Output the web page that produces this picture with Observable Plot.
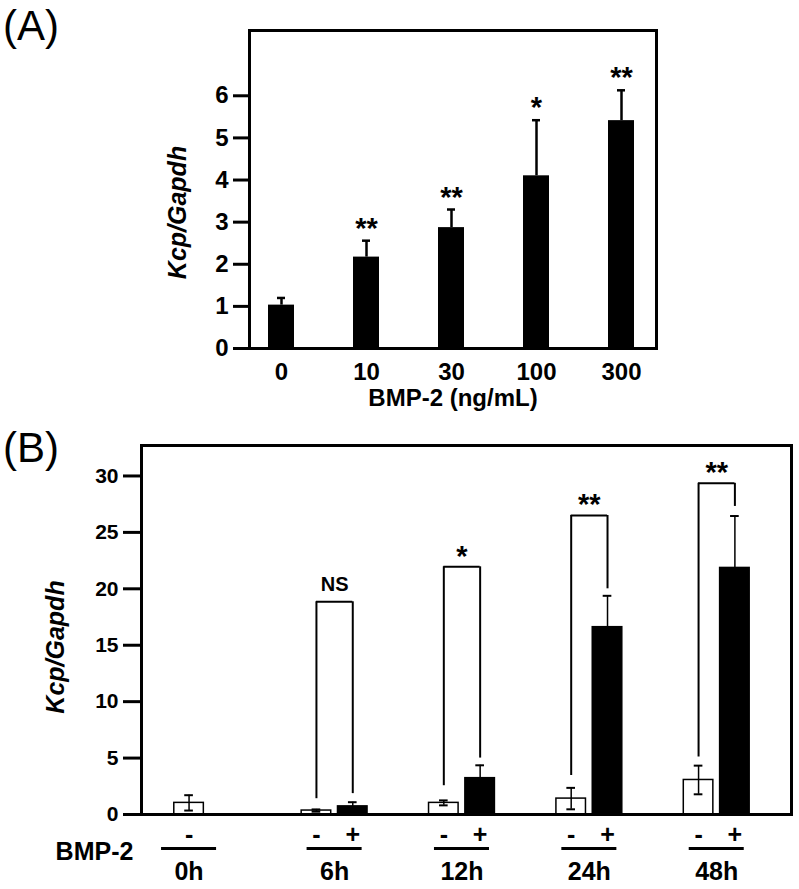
<!DOCTYPE html>
<html><head><meta charset="utf-8">
<script src="https://cdn.jsdelivr.net/npm/d3@7"></script>
<script src="https://cdn.jsdelivr.net/npm/@observablehq/plot@0.6"></script>
<style>
body{margin:0;background:#fff;}
#wrap{position:relative;width:799px;height:889px;overflow:hidden;}
.panel{position:absolute;left:0;}
.plabel{position:absolute;font-size:42px;font-family:"Liberation Sans",Arial,sans-serif;line-height:1;color:#000;}
</style></head><body>
<div id="wrap">
  <div class="plabel" style="left:3px;top:5px">(A)</div>
  <div class="plabel" style="left:3px;top:427px">(B)</div>
  <div id="pa" class="panel" style="top:0px"></div>
  <div id="pb" class="panel" style="top:440px"></div>
</div>
<script>
// ---------- Panel A data ----------
const doseLabels = ["0", "10", "30", "100", "300"];
const doseMean = [1.03, 2.17, 2.87, 4.10, 5.41];
const doseSD = [0.17, 0.39, 0.43, 1.32, 0.72];
const doseSig = ["", "**", "**", "*", "**"];
const yTicksA = [0, 1, 2, 3, 4, 5, 6];
const xTitleA = "BMP-2 (ng/mL)";
const yTitle = "Kcp/Gapdh";

// ---------- Panel B data ----------
const timeLabels = ["0h", "6h", "12h", "24h", "48h"];
const ctrlMean = [1.03, 0.35, 1.03, 1.41, 3.06];
const ctrlSD = [0.68, 0.10, 0.22, 0.95, 1.27];
const bmpMean = [null, 0.72, 3.22, 16.6, 21.85];
const bmpSD = [null, 0.37, 1.14, 2.78, 4.6];
const sigLabels = [null, "NS", "*", "**", "**"];
const bracketTop = [null, 18.85, 21.95, 26.5, 29.35];
const bracketLeftEnd = [null, 1.4, 2.55, 3.45, 5.1];
const bracketRightEnd = [null, 1.85, 5.0, 20.0, 27.3];
const yTicksB = [0, 5, 10, 15, 20, 25, 30];
const treatLabel = "BMP-2";

const FONT = '"Liberation Sans", Arial, Helvetica, sans-serif';

// ---------- Panel A ----------
const A = doseLabels.map((d, i) => ({dose: d, mean: doseMean[i], sd: doseSD[i], sig: doseSig[i]}));
const plotA = Plot.plot({
  width: 799, height: 440,
  marginLeft: 249, marginRight: 143, marginTop: 30, marginBottom: 92,
  style: {fontFamily: FONT, color: "#000", background: "transparent", overflow: "visible"},
  x: {domain: doseLabels, paddingInner: 0.689, paddingOuter: 0.213, align: 0.463},
  y: {domain: [0, 7.55]},
  marks: [
    Plot.barY(A, {x: "dose", y: "mean", fill: "#000"}),
    Plot.ruleX(A, {x: "dose", y1: "mean", y2: d => d.mean + d.sd, strokeWidth: 2.5}),
    Plot.tickY(A, {x: "dose", y: d => d.mean + d.sd, strokeWidth: 2.5, insetLeft: 9, insetRight: 9}),
    Plot.text(A, {x: "dose", y: d => d.mean + d.sd, text: "sig", lineAnchor: "bottom", dy: -3, fontSize: 29, fontWeight: "bold"}),
    Plot.axisY({ticks: yTicksA, tickSize: 16, tickPadding: 5, strokeWidth: 3, fontSize: 24, fontWeight: "bold", label: null}),
    Plot.axisX({tickSize: 0, tickPadding: 14, fontSize: 24, fontWeight: "bold", label: null}),
    Plot.text([xTitleA], {text: d => d, frameAnchor: "bottom", dy: 50, lineAnchor: "middle", textAnchor: "middle", fontSize: 24, fontWeight: "bold"}),
    Plot.text([yTitle], {text: d => d, frameAnchor: "left", rotate: -90, dx: -72, dy: 23, lineAnchor: "middle", textAnchor: "middle", fontSize: 25, fontWeight: "bold", fontStyle: "italic"}),
    Plot.frame({strokeWidth: 3})
  ]
});
document.getElementById("pa").appendChild(plotA);

// ---------- Panel B ----------
const PAIR_OFF = 0.1426, BAR_HALF = 0.116, CAP_HALF = 0.034, LINE_HALF = 0.216;
const bars = [];
timeLabels.forEach((t, i) => {
  bars.push({time: t, g: i, trt: "-", pos: i - PAIR_OFF, mean: ctrlMean[i], sd: ctrlSD[i]});
  if (bmpMean[i] != null) bars.push({time: t, g: i, trt: "+", pos: i + PAIR_OFF, mean: bmpMean[i], sd: bmpSD[i]});
});
const ctrl = bars.filter(d => d.trt === "-");
const bmp = bars.filter(d => d.trt === "+");
const groups = timeLabels.map((t, i) => {
  const b = bars.filter(d => d.g === i);
  return {time: t, pos: d3.mean(b, d => d.pos)};
});
const brackets = timeLabels.map((t, i) => ({time: t, sig: sigLabels[i], top: bracketTop[i], lEnd: bracketLeftEnd[i], rEnd: bracketRightEnd[i], l: i - PAIR_OFF, r: i + PAIR_OFF}))
  .filter(d => d.sig != null);

const zero = () => 0;
const plotB = Plot.plot({
  width: 799, height: 449,
  marginLeft: 141, marginRight: 8, marginTop: 5, marginBottom: 75,
  style: {fontFamily: FONT, color: "#000", background: "transparent", overflow: "visible"},
  x: {type: "linear", domain: [-0.516, 4.587], axis: null},
  y: {domain: [0, 32.7]},
  marks: [
    Plot.rectY(ctrl, {x1: d => d.pos - BAR_HALF, x2: d => d.pos + BAR_HALF, y1: zero, y2: "mean", fill: "#fff", stroke: "#000", strokeWidth: 1.5}),
    Plot.rectY(bmp, {x1: d => d.pos - BAR_HALF, x2: d => d.pos + BAR_HALF, y1: zero, y2: "mean", fill: "#000", stroke: "#000", strokeWidth: 1.5}),
    // error bars
    Plot.ruleX(ctrl, {x: "pos", y1: d => d.mean - d.sd, y2: d => d.mean + d.sd, strokeWidth: 1.5}),
    Plot.ruleY(ctrl, {x1: d => d.pos - CAP_HALF, x2: d => d.pos + CAP_HALF, y: d => d.mean + d.sd, strokeWidth: 2}),
    Plot.ruleY(ctrl, {x1: d => d.pos - CAP_HALF, x2: d => d.pos + CAP_HALF, y: d => d.mean - d.sd, strokeWidth: 2}),
    Plot.ruleX(bmp, {x: "pos", y1: "mean", y2: d => d.mean + d.sd, strokeWidth: 1.5}),
    Plot.ruleY(bmp, {x1: d => d.pos - CAP_HALF, x2: d => d.pos + CAP_HALF, y: d => d.mean + d.sd, strokeWidth: 2}),
    // brackets
    Plot.ruleX(brackets, {x: "l", y1: "lEnd", y2: "top", strokeWidth: 2}),
    Plot.ruleX(brackets, {x: "r", y1: "rEnd", y2: "top", strokeWidth: 2}),
    Plot.ruleY(brackets, {x1: "l", x2: "r", y: "top", strokeWidth: 2}),
    Plot.text(brackets.filter(d => d.sig !== "NS"), {x: d => (d.l + d.r) / 2, y: "top", text: "sig", lineAnchor: "bottom", dy: -1, fontSize: 29, fontWeight: "bold"}),
    Plot.text(brackets.filter(d => d.sig === "NS"), {x: d => (d.l + d.r) / 2, y: "top", text: "sig", lineAnchor: "bottom", dy: -11, fontSize: 20, fontWeight: "bold"}),
    // treatment signs and group labels below the axis
    Plot.text(bars, {x: "pos", y: zero, text: "trt", dy: 20, lineAnchor: "middle", fontSize: 25, fontWeight: "bold"}),
    Plot.ruleY(groups, {x1: d => d.pos - LINE_HALF, x2: d => d.pos + LINE_HALF, y: zero, dy: 34, strokeWidth: 3}),
    Plot.text(groups, {x: "pos", y: zero, text: "time", dy: 57, lineAnchor: "middle", fontSize: 25, fontWeight: "bold"}),
    Plot.text([treatLabel], {text: d => d, frameAnchor: "bottom-left", dx: -47, dy: 37, lineAnchor: "middle", textAnchor: "middle", fontSize: 25, fontWeight: "bold"}),
    Plot.axisY({ticks: yTicksB, tickSize: 18, tickPadding: 5, strokeWidth: 3, fontSize: 21, fontWeight: "bold", label: null}),
    Plot.text([yTitle], {text: d => d, frameAnchor: "left", rotate: -90, dx: -86, dy: 17, lineAnchor: "middle", textAnchor: "middle", fontSize: 25, fontWeight: "bold", fontStyle: "italic"}),
    Plot.frame({strokeWidth: 3})
  ]
});
document.getElementById("pb").appendChild(plotB);
</script>
</body></html>
